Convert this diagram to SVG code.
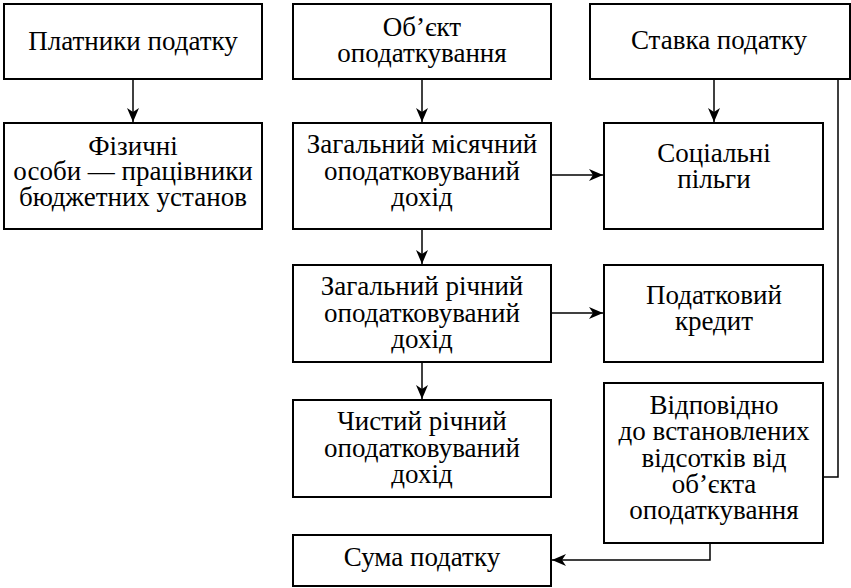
<svg xmlns="http://www.w3.org/2000/svg" width="851" height="588" viewBox="0 0 851 588">
<style>
rect{fill:#fff;stroke:#000;stroke-width:2}
text{font-size:27px;fill:#000;text-anchor:middle}
.c{fill:none;stroke:#000;stroke-width:1.5}
</style>
<defs>
<marker id="a" markerUnits="userSpaceOnUse" markerWidth="16" markerHeight="12" refX="14" refY="6" orient="auto">
<path d="M0,0 L14,6 L0,12 L4,6 z" fill="#000"/>
</marker>
</defs>
<g font-family="Liberation Serif">
<g id="n1"><rect x="4" y="4" width="258" height="75"/><text x="133" y="50">Платники податку</text></g>
<g id="n2"><rect x="293" y="4" width="258" height="75"/><text x="422" y="36">Об’єкт</text><text x="422" y="62">оподаткування</text></g>
<g id="n3"><rect x="590" y="4" width="260" height="75"/><text x="719" y="49">Ставка податку</text></g>
<g id="n4"><rect x="4" y="123" width="258" height="106"/><text x="133" y="155">Фізичні</text><text x="133" y="180">особи — працівники</text><text x="133" y="206">бюджетних установ</text></g>
<g id="n5"><rect x="293" y="123" width="258" height="106"/><text x="422" y="153">Загальний місячний</text><text x="422" y="180">оподатковуваний</text><text x="422" y="206">дохід</text></g>
<g id="n6"><rect x="604" y="123" width="219" height="106"/><text x="714" y="162">Соціальні</text><text x="714" y="188">пільги</text></g>
<g id="n7"><rect x="293" y="265" width="258" height="97"/><text x="422" y="295">Загальний річний</text><text x="422" y="322">оподатковуваний</text><text x="422" y="348">дохід</text></g>
<g id="n8"><rect x="604" y="265" width="219" height="97"/><text x="714" y="304">Податковий</text><text x="714" y="330">кредит</text></g>
<g id="n9"><rect x="293" y="400" width="258" height="97"/><text x="422" y="430">Чистий річний</text><text x="422" y="457">оподатковуваний</text><text x="422" y="483">дохід</text></g>
<g id="n10"><rect x="604" y="383" width="219" height="160"/><text x="714" y="414">Відповідно</text><text x="714" y="440">до встановлених</text><text x="714" y="467">відсотків від</text><text x="714" y="493">об’єкта</text><text x="714" y="519">оподаткування</text></g>
<g id="n11"><rect x="293" y="535" width="258" height="51"/><text x="422" y="566">Сума податку</text></g>
</g>
<g id="connectors">
<path class="c" d="M133,79 V122" marker-end="url(#a)"/>
<path class="c" d="M422,79 V122" marker-end="url(#a)"/>
<path class="c" d="M714,79 V122" marker-end="url(#a)"/>
<path class="c" d="M551,175 H603" marker-end="url(#a)"/>
<path class="c" d="M422,229 V264" marker-end="url(#a)"/>
<path class="c" d="M551,313 H603" marker-end="url(#a)"/>
<path class="c" d="M422,362 V399" marker-end="url(#a)"/>
<path class="c" d="M838,79 V477 H823"/>
<path class="c" d="M710,543 V560 H552" marker-end="url(#a)"/>
</g>
</svg>
